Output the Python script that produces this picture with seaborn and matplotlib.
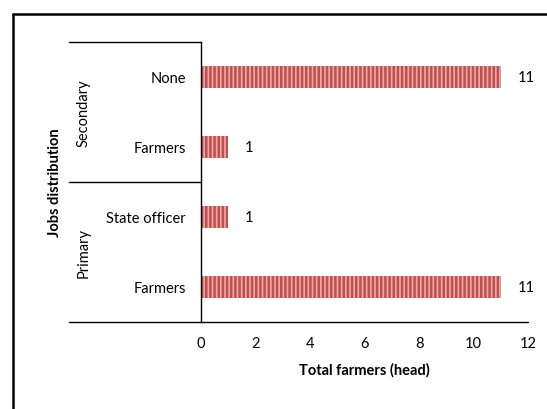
import matplotlib
matplotlib.use("Agg")
import matplotlib.pyplot as plt
from matplotlib.lines import Line2D
import seaborn as sns
import pandas as pd

# Data
groups = ["Secondary", "Secondary", "Primary", "Primary"]
jobs = ["None", "Farmers", "State officer", "Farmers"]
totals = [11, 1, 1, 11]
x_ticks = [0, 2, 4, 6, 8, 10, 12]

sns.set_theme(style="white")
plt.rcParams["font.family"] = ["Lato", "DejaVu Sans"]
plt.rcParams["hatch.linewidth"] = 1.8
plt.rcParams["hatch.color"] = "#C0504D"

df = pd.DataFrame({
    "key": [f"{g}|{j}" for g, j in zip(groups, jobs)],
    "job": jobs,
    "group": groups,
    "total": totals,
})

FS = 10.5
fig = plt.figure(figsize=(5.47, 4.10), dpi=100)
W, H = 547, 410
left_px, right_px, top_px, bot_px = 201, 528, 43, 323
ax = fig.add_axes([left_px / W, 1 - bot_px / H,
                   (right_px - left_px) / W, (bot_px - top_px) / H])

sns.barplot(data=df, y="key", x="total", orient="h", order=list(df["key"]),
            color="#E9ABAA", width=0.32, ax=ax, linewidth=0, saturation=1)
for p in ax.patches:
    p.set_hatch("||||")
    p.set_edgecolor("#C0504D")
    p.set_linewidth(0)

ax.bar_label(ax.containers[0], labels=[str(v) for v in totals],
             padding=12, fontsize=FS, color="#000000")

ax.set_xlim(0, 12)
ax.set_ylim(3.5, -0.5)
ax.set_xticks(x_ticks)
ax.set_xticklabels([str(t) for t in x_ticks], fontsize=FS)
ax.set_yticks(range(len(jobs)))
ax.set_yticklabels(jobs, fontsize=FS)
ax.tick_params(axis="x", length=0, pad=10, colors="#000000")
ax.tick_params(axis="y", length=0, pad=11, colors="#000000")
ax.set_ylabel("")
ax.set_xlabel("Total farmers (head)", fontsize=FS, fontweight="bold",
              labelpad=9, color="#000000")

for s in ["top", "right", "bottom"]:
    ax.spines[s].set_visible(False)
ax.spines["left"].set_color("#000000")
ax.spines["left"].set_linewidth(1.0)

# Horizontal axis line and group separators reaching into the label area
x_start = (69 - left_px) / (right_px - left_px)
tr = ax.get_yaxis_transform()
ax.plot([x_start, 1.0], [3.5, 3.5], transform=tr, color="#000000",
        lw=1.0, clip_on=False)
for yy in [-0.5, 1.5]:
    ax.plot([x_start, 0], [yy, yy], transform=tr, color="#000000",
            lw=1.0, clip_on=False)

# Group labels
ax.text(-0.36, 0.5, "Secondary", transform=tr, rotation=90,
        ha="center", va="center", fontsize=FS, color="#000000")
ax.text(-0.36, 2.5, "Primary", transform=tr, rotation=90,
        ha="center", va="center", fontsize=FS, color="#000000")
fig.text(55 / W, 1 - 183 / H, "Jobs distribution", rotation=90,
         ha="center", va="center", fontsize=FS, fontweight="bold",
         color="#000000")

# Outer frame
fig.add_artist(Line2D([12.5 / W, 12.5 / W], [0, 1 - 14.5 / H],
                      color="#000000", lw=1.8))
fig.add_artist(Line2D([12.5 / W, 1], [1 - 14.5 / H, 1 - 14.5 / H],
                      color="#000000", lw=1.8))

fig.savefig("out.png", dpi=100)
